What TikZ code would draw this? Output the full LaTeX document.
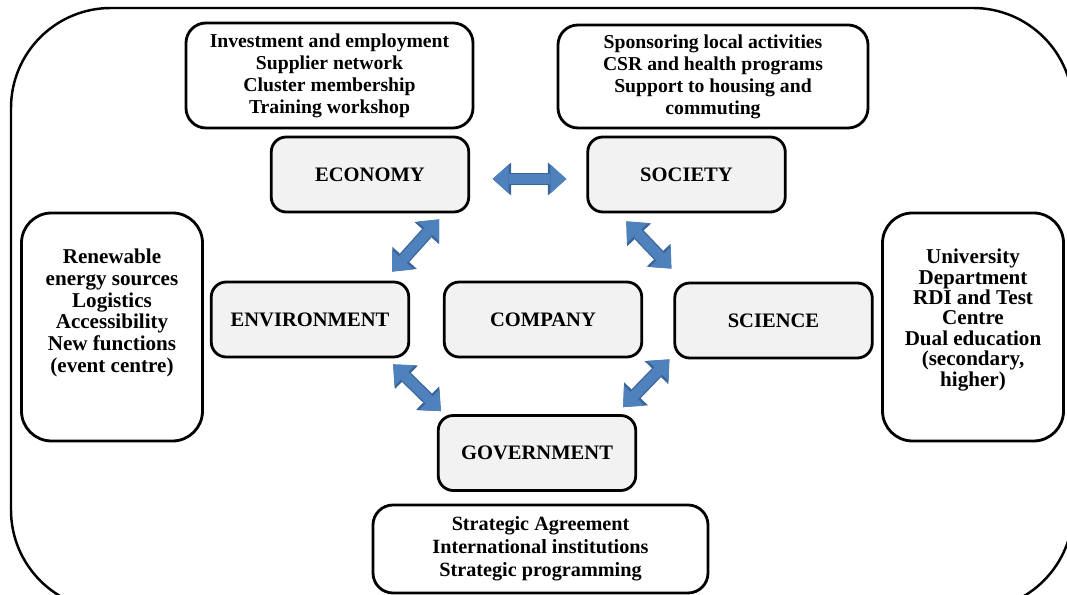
\documentclass[tikz,border=0pt]{standalone}
\usepackage{fontspec}
\setmainfont{Liberation Serif}
\usetikzlibrary{calc}
\usetikzlibrary{arrows.meta}
\definecolor{arrowblue}{HTML}{4F81BD}
\definecolor{arrowedge}{HTML}{3A659A}
\definecolor{boxgray}{HTML}{F2F2F2}
\tikzset{
	sector/.style={draw,line width=1.6pt,rounded corners=0.3cm,fill=boxgray,minimum width=3.95cm,minimum height=1.5cm,font=\fontsize{11.7}{13}\selectfont\bfseries},
	listbox/.style={draw,line width=1.6pt,rounded corners=0.4cm,align=center,font=\fontsize{11.2}{12.5}\selectfont\bfseries},
	sidebox/.style={draw,line width=1.6pt,rounded corners=0.6cm,minimum width=3.62cm,minimum height=4.56cm},
	sidetext/.style={align=center,font=\fontsize{12}{12.4}\selectfont\bfseries},
	biarrow/.style={
		preaction={draw=arrowedge,line width=7.2pt,arrows={Triangle[length=0.37cm,width=0.66cm,line width=0pt]-Triangle[length=0.37cm,width=0.66cm,line width=0pt]}},
		draw=arrowblue,line width=5.8pt,arrows={Triangle[length=0.32cm,width=0.58cm,line width=0pt]-Triangle[length=0.32cm,width=0.58cm,line width=0pt]}
	}
}

\begin{document}
\begin{tikzpicture}
	\useasboundingbox (0,0) rectangle (21.34,11.9);
	\clip (0,0) rectangle (21.34,11.9);
	\draw[line width=1.4pt,rounded corners=2cm] (0.22,-0.3) rectangle (21.46,11.74);

	% the six partners and the company
	\node[sector] (econ) at (7.40,8.41) {ECONOMY};
	\node[sector] (soc) at (13.73,8.41) {SOCIETY};
	\node[sector] (env) at (6.20,5.51) {ENVIRONMENT};
	\node[sector] (comp) at (10.86,5.51) {COMPANY};
	\node[sector] (sci) at (15.47,5.49) {SCIENCE};
	\node[sector] (gov) at (10.74,2.84) {GOVERNMENT};

	% lists
	\node[listbox,minimum width=5.74cm,minimum height=2.1cm] (invest) at (6.59,10.39) {Investment and employment\\Supplier network\\Cluster membership\\Training workshop};
	\node[listbox,minimum width=6.2cm,minimum height=2.06cm] (csr) at (14.26,10.37) {Sponsoring local activities\\CSR and health programs\\Support to housing and\\commuting};
	\node[listbox,minimum width=6.7cm,minimum height=1.76cm,font=\fontsize{11.5}{13}\selectfont\bfseries] (agree) at (10.81,0.92) {Strategic Agreement\\International institutions\\Strategic programming};
	\node[sidebox] (renew) at (2.24,5.36) {};
	\node[sidetext] (renewtxt) at (2.24,5.64) {Renewable\\energy sources\\Logistics\\Accessibility\\New functions\\(event centre)};
	\node[sidebox] (univ) at (19.46,5.36) {};
	\node[sidetext,font=\fontsize{12}{11.6}\selectfont\bfseries] (univtxt) at (19.46,5.50) {University\\Department\\RDI and Test\\Centre\\Dual education\\(secondary,\\higher)};

	% block arrows
	\draw[biarrow,shorten <=0.45cm,shorten >=0.4cm] ([yshift=-0.09cm]econ.east) -- ([yshift=-0.09cm]soc.west);
	\draw[biarrow] ($(econ.south east)+(-0.62,-0.12)$) -- ($(env.north east)+(-0.36,0.18)$);
	\draw[biarrow] ($(soc.south west)+(0.8,-0.16)$) -- ($(sci.north west)+(-0.04,0.26)$);
	\draw[biarrow] ($(env.south east)+(-0.34,-0.12)$) -- ($(gov.north west)+(0.08,0.06)$);
	\draw[biarrow] ($(sci.south west)+(-0.08,0)$) -- ($(gov.north east)+(-0.28,0.14)$);
\end{tikzpicture}
\end{document}
